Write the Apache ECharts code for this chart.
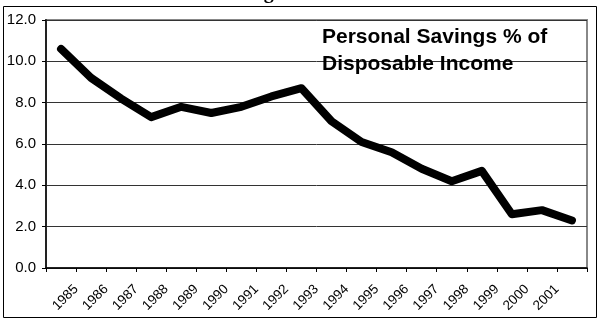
<!DOCTYPE html>
<html>
<head>
<meta charset="utf-8">
<script src="https://cdn.jsdelivr.net/npm/echarts@6/dist/echarts.min.js"></script>
<style>
html,body{margin:0;padding:0;background:#fff;}
#chart{width:600px;height:320px;}
</style>
</head>
<body>
<div id="chart"></div>
<script>
// Tick labels shown under the x axis
const yearLabels = ['1985','1986','1987','1988','1989','1990','1991','1992','1993','1994','1995','1996','1997','1998','1999','2000','2001'];
// Data points (18 points, one per plotted period)
const pointCats = ['p1','p2','p3','p4','p5','p6','p7','p8','p9','p10','p11','p12','p13','p14','p15','p16','p17','p18'];
const savingsPct = [10.6, 9.2, 8.2, 7.3, 7.8, 7.5, 7.8, 8.3, 8.7, 7.1, 6.1, 5.6, 4.8, 4.2, 4.7, 2.6, 2.8, 2.3];
// Y axis ticks
const yMin = 0, yMax = 12, yStep = 2;

const chart = echarts.init(document.getElementById('chart'), null, {renderer: 'canvas'});
const font = '"Liberation Sans", Arial, sans-serif';

chart.setOption({
  animation: false,
  backgroundColor: '#fff',
  grid: {left: 46, right: 13, top: 20, bottom: 52, show: true, borderColor: '#888', borderWidth: 2, backgroundColor: 'transparent'},
  xAxis: [
    {
      type: 'category',
      data: pointCats,
      boundaryGap: true,
      position: 'bottom',
      axisLine: {show: true, lineStyle: {color: '#000', width: 1.5}},
      axisTick: {show: true, interval: 0, length: 4, lineStyle: {color: '#000', width: 1}},
      axisLabel: {show: false},
      splitLine: {show: false}
    },
    {
      type: 'category',
      data: [''].concat(yearLabels, ['']),
      boundaryGap: false,
      position: 'bottom',
      axisLine: {show: false},
      axisTick: {show: false},
      splitLine: {show: false},
      axisLabel: {show: true, interval: 0, rotate: 45, margin: 19, fontSize: 13.5, color: '#000', fontFamily: font}
    }
  ],
  yAxis: {
    type: 'value',
    min: yMin, max: yMax, interval: yStep,
    axisLine: {show: true, lineStyle: {color: '#222', width: 2}},
    axisTick: {show: true, length: 4, lineStyle: {color: '#000'}},
    axisLabel: {formatter: v => v.toFixed(1), fontSize: 15, color: '#000', margin: 10, fontFamily: font},
    splitLine: {show: true, lineStyle: {color: '#333', width: 1}}
  },
  series: [{
    type: 'line',
    xAxisIndex: 0,
    data: savingsPct,
    showSymbol: false,
    symbol: 'none',
    lineStyle: {color: '#000', width: 8, cap: 'round', join: 'round'},
    z: 3
  }],
  graphic: [
    {type: 'rect', shape: {x: 3.5, y: 6.5, width: 593, height: 311}, style: {fill: 'none', stroke: '#000', lineWidth: 1}, z: 0, silent: true},
    {type: 'text', x: 216, y: -7, style: {text: 'Savings', font: 'bold 20px "Liberation Serif", "Times New Roman", serif', fill: '#000', verticalAlign: 'middle'}, z: 10},
    {type: 'text', x: 322, y: 24, style: {text: 'Personal Savings % of\nDisposable Income', font: 'bold 21px "Liberation Sans", Arial, sans-serif', fill: '#000', lineHeight: 27, verticalAlign: 'top'}, z: 10}
  ]
});
</script>
</body>
</html>
